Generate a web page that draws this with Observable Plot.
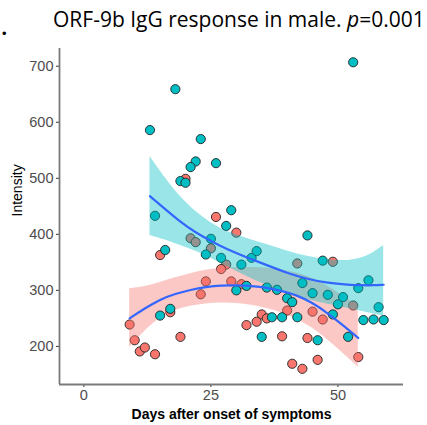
<!DOCTYPE html>
<html>
<head>
<meta charset="utf-8">
<script src="https://cdn.jsdelivr.net/npm/d3@7"></script>
<script src="https://cdn.jsdelivr.net/npm/@observablehq/plot@0.6"></script>
<style>
  html, body { margin: 0; padding: 0; background: #fff; }
  #wrap { position: relative; width: 427px; height: 425px; overflow: hidden; }
  #title { position: absolute; left: 53px; top: 5px; font-family: "Open Sans", sans-serif; font-size: 21px; color: #000; white-space: nowrap; }
  #bullet { position: absolute; left: 2px; top: 26px; font-family: "Liberation Sans", sans-serif; font-size: 13px; color: #000; }
  #chart { position: absolute; left: 0; top: 44px; }
</style>
</head>
<body>
<div id="wrap">
  <div id="bullet">•</div>
  <div id="title">ORF-9b IgG response in male. <i>p</i>=0.001</div>
  <div id="chart"></div>
</div>
<script>
// Cyan series (points)
const cyanDays   = [13, 18, 23, 22, 21, 26, 19, 20, 14, 53, 29, 28, 25, 24, 27, 33, 34, 16, 15, 17, 31, 30, 32, 36, 38, 40, 41, 37, 39, 42, 35, 44, 47, 43, 45, 48, 51, 50, 54, 56, 58, 55, 57, 59, 49, 52, 46];
const cyanValues = [586, 659, 570, 530, 520, 527, 495, 492, 433, 707, 443, 415, 392, 364, 358, 358, 370, 372, 255, 267, 346, 300, 308, 305, 301, 286, 279, 252, 252, 252, 217, 398, 353, 313, 295, 292, 288, 275, 304, 318, 270, 247, 248, 247, 257, 217, 211];

// Red series (points)
const redDays   = [20, 26, 30, 21, 22, 25, 15, 24, 23, 17, 9, 10, 11, 12, 14, 19, 28, 27, 42, 29, 31, 40, 35, 36, 34, 32, 39, 41, 49, 53, 45, 47, 54, 44, 43, 46];
const redValues = [499, 431, 403, 393, 386, 375, 363, 316, 293, 261, 239, 211, 191, 198, 186, 217, 346, 338, 348, 316, 311, 264, 257, 250, 244, 238, 218, 169, 351, 273, 262, 248, 181, 215, 160, 176];

// Smooth fits (day, fit, lower, upper)
const cyanBandDays = [13, 16, 19, 22, 25, 28, 32, 36, 40, 44, 48, 52, 55, 57, 59];
const cyanFit      = [468, 445, 422, 403, 388, 374, 359, 345, 331, 320, 313, 310, 309, 309, 310];
const cyanLo       = [398, 390, 380, 370, 358, 343, 325, 309, 294, 283, 275, 268, 262, 258, 254];
const cyanHi       = [539, 500, 466, 440, 420, 405, 393, 382, 370, 360, 354, 352, 358, 367, 380];

const redBandDays = [9, 12, 15, 18, 21, 24, 27, 30, 33, 36, 39, 42, 45, 48, 51, 54];
const redFit      = [250, 268, 284, 294, 301, 306, 309, 309, 308, 305, 299, 291, 278, 259, 238, 215];
const redLo       = [198, 228, 252, 265, 272, 276, 278, 277, 274, 268, 260, 249, 233, 212, 188, 163];
const redHi       = [303, 306, 314, 323, 330, 336, 340, 341, 341, 340, 336, 331, 322, 308, 290, 272];

const xTicks = [0, 25, 50];
const yTicks = [200, 300, 400, 500, 600, 700];

const CYAN = "#00BFC4", RED = "#F8766D", LINE = "#3366FF";

const pts = (days, vals) => days.map((d, i) => ({d, v: vals[i]}));
const band = (days, fit, lo, hi) => days.map((d, i) => ({d, fit: fit[i], lo: lo[i], hi: hi[i]}));

const cyanPts = pts(cyanDays, cyanValues);
const redPts = pts(redDays, redValues);
const cyanBand = band(cyanBandDays, cyanFit, cyanLo, cyanHi);
const redBand = band(redBandDays, redFit, redLo, redHi);

const chart = Plot.plot({
  width: 427,
  height: 381,
  marginLeft: 59,
  marginRight: 24,
  marginTop: 4,
  marginBottom: 41,
  style: {fontFamily: "Liberation Sans, Arial, sans-serif", fontSize: "14px", background: "#fff"},
  x: {domain: [-4.8, 62.9], ticks: xTicks, label: null, tickSize: 3, tickPadding: 2},
  y: {domain: [132, 731.6], ticks: yTicks, label: null, tickSize: 3, tickPadding: 3},
  marks: [
    Plot.dot(redPts, {x: "d", y: "v", r: 4.6, fill: RED, stroke: "#222", strokeWidth: 0.9}),
    Plot.areaY(redBand, {x: "d", y1: "lo", y2: "hi", fill: RED, fillOpacity: 0.4, curve: "basis"}),
    Plot.dot(cyanPts, {x: "d", y: "v", r: 4.6, fill: CYAN, stroke: "#222", strokeWidth: 0.9}),
    Plot.areaY(cyanBand, {x: "d", y1: "lo", y2: "hi", fill: CYAN, fillOpacity: 0.4, curve: "basis"}),
    Plot.line(redBand, {x: "d", y: "fit", stroke: LINE, strokeWidth: 2.2, curve: "basis"}),
    Plot.line(cyanBand, {x: "d", y: "fit", stroke: LINE, strokeWidth: 2.2, curve: "basis"}),
    Plot.axisX({ticks: xTicks, tickSize: 3, tickPadding: 2, stroke: "#333", fill: "#4D4D4D", fontSize: 14.5, label: null}),
    Plot.axisY({ticks: yTicks, tickSize: 3, tickPadding: 3, stroke: "#333", fill: "#4D4D4D", fontSize: 14.5, label: null}),
    Plot.ruleY([132], {stroke: "#7a7a7a", strokeWidth: 1.8}),
    Plot.ruleX([-4.8], {stroke: "#7a7a7a", strokeWidth: 1.8}),
    Plot.text(["Intensity"], {frameAnchor: "left", dx: -42, rotate: -90, fontSize: 14, fill: "#000"}),
    Plot.text(["Days after onset of symptoms"], {frameAnchor: "bottom", dy: 34, lineAnchor: "bottom", fontSize: 14, fontWeight: "bold", fill: "#000"})
  ]
});
document.getElementById("chart").appendChild(chart);
</script>
</body>
</html>
